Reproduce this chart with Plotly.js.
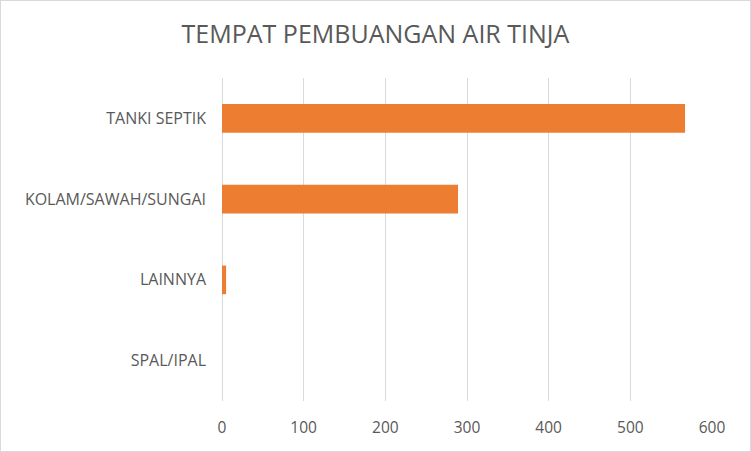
<!DOCTYPE html>
<html>
<head>
<meta charset="utf-8">
<script src="https://cdn.plot.ly/plotly-3.0.1.min.js"></script>
<style>
html,body{margin:0;padding:0;background:#fff;}
#chart{width:749px;height:450px;border:1px solid #d9d9d9;}
</style>
</head>
<body>
<div id="chart"></div>
<script>
const categories = ["TANKI SEPTIK", "KOLAM/SAWAH/SUNGAI", "LAINNYA", "SPAL/IPAL"];
const values = [567, 289, 5, 0];
const xTicks = [0, 100, 200, 300, 400, 500, 600];
const chartTitle = "TEMPAT PEMBUANGAN AIR TINJA";

const trace = {
  type: "bar",
  orientation: "h",
  x: values,
  y: categories,
  width: 0.355,
  marker: {color: "#ed7d31"},
  hoverinfo: "x+y"
};

const layout = {
  width: 749,
  height: 450,
  paper_bgcolor: "#ffffff",
  plot_bgcolor: "#ffffff",
  margin: {l: 221, r: 38, t: 76.5, b: 49.5},
  showlegend: false,
  title: {
    text: chartTitle,
    font: {family: "Open Sans, Noto Sans, sans-serif", size: 25, color: "#595959"},
    x: 0.5, xanchor: "center",
    y: 1 - 33/450, yanchor: "middle"
  },
  xaxis: {
    range: [0, 600],
    tickvals: xTicks,
    ticktext: xTicks.map(String),
    showgrid: true,
    gridcolor: "#d9d9d9",
    gridwidth: 1,
    zeroline: true,
    zerolinecolor: "#d9d9d9",
    showline: false,
    ticks: "",
    ticklabelstandoff: 15,
    tickfont: {family: "Open Sans, Noto Sans, sans-serif", size: 15.5, color: "#595959"},
    fixedrange: true
  },
  yaxis: {
    type: "category",
    autorange: "reversed",
    showgrid: false,
    zeroline: false,
    showline: false,
    ticks: "",
    ticklabelstandoff: 15,
    tickfont: {family: "Open Sans, Noto Sans, sans-serif", size: 16, color: "#595959"},
    fixedrange: true
  }
};

Plotly.newPlot("chart", [trace], layout, {displayModeBar: false, staticPlot: true});
</script>
</body>
</html>
